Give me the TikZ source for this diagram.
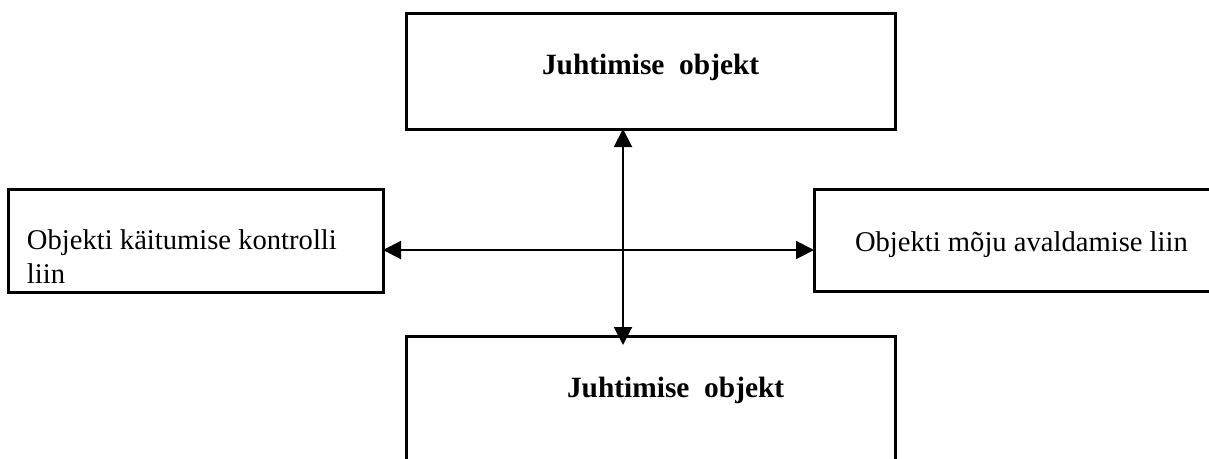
\documentclass[tikz,border=0pt]{standalone}
\usepackage{fontspec}
\setmainfont{Liberation Serif}
\usetikzlibrary{arrows.meta}

\tikzset{
  frame/.style={draw, line width=3pt, inner sep=0pt, outer sep=0pt},
  label/.style={inner sep=0pt, outer sep=0pt, anchor=base west,
    font=\fontsize{28.6pt}{34pt}\selectfont},
  title/.style={label, font=\fontsize{29.4pt}{34pt}\selectfont\bfseries},
  link/.style={line width=2pt, {Triangle[length=18pt,width=18pt]}-{Triangle[length=18pt,width=18pt]}},
}

\begin{document}
\begin{tikzpicture}[x=1pt,y=-1pt]
  \useasboundingbox (0,0) rectangle (1209,458);

  % the four boxes
  \node[frame, minimum width=489pt, minimum height=116pt] (top)   at (650.5,71)  {};
  \node[frame, minimum width=489pt, minimum height=148pt] (bot)   at (650.5,410) {};
  \node[frame, minimum width=375pt, minimum height=103pt] (left)  at (195.5,240.5) {};
  \node[frame, minimum width=416pt, minimum height=102pt] (right) at (1022,240) {};

  % box captions
  \node[title] (ttop) at (542,74) {Juhtimise\hspace{0.5em}objekt};
  \node[title] (tbot) at (567,397) {Juhtimise\hspace{0.5em}objekt};
  % a two-line node sits on the baseline of its last line
  \node[label, align=left] (tleft) at (27,283) {Objekti käitumise kontrolli\\liin};
  \node[label] (tright) at (855,251) {Objekti mõju avaldamise liin};

  % crossing point of the two connectors
  \coordinate (cross) at (623,250);

  \draw[link, shorten >=-9pt] (cross |- top.south) -- (cross |- bot.north);
  \draw[link] (cross -| left.east) -- (cross -| right.west);
\end{tikzpicture}
\end{document}
